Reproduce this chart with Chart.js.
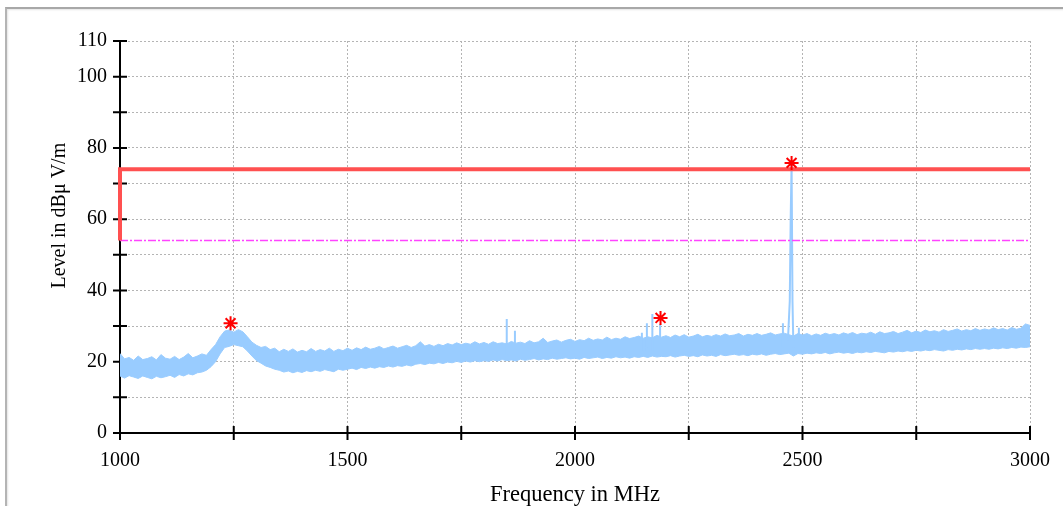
<!DOCTYPE html>
<html>
<head>
<meta charset="utf-8">
<script src="https://cdn.jsdelivr.net/npm/chart.js@4"></script>
<style>
  html, body { margin: 0; padding: 0; background: #fff; overflow: hidden; }
  #frame { position: absolute; left: 5px; top: 7px; width: 1200px; height: 700px;
           border-left: 2px solid #b4b4b4; border-top: 2px solid #a8a8a8;
           box-shadow: inset 1px 1px 2px #e4e4e4; }
  #chart { position: absolute; left: 0; top: 0; }
</style>
</head>
<body>
<div id="frame"></div>
<canvas id="chart" width="1063" height="506"></canvas>
<script>
// measured trace, one value every 10 MHz from 1000 to 3000 MHz
const freqStart = 1000;
const freqStep = 10;
// upper edge of the noisy trace (dBµV/m)
const levelMax = [
  22.3,20.8,21.2,20.4,21.6,20.6,20.9,21.4,20.5,22.0,
  21.0,20.7,21.5,20.6,21.3,22.3,21.1,21.6,22.2,21.8,
  23.4,24.8,27.0,28.6,28.9,28.3,29.0,28.4,27.0,25.5,
  24.6,24.0,24.3,23.4,23.8,22.8,23.5,22.9,23.6,22.7,
  23.2,22.8,23.7,22.9,23.4,23.0,23.8,22.9,23.5,23.1,
  23.8,23.2,23.9,23.4,24.1,23.5,23.8,24.3,23.6,24.0,
  24.4,23.8,24.2,24.6,24.0,24.5,25.6,24.4,24.8,24.3,
  24.9,24.5,25.1,24.7,25.3,24.8,25.2,24.9,25.6,25.0,
  25.4,24.9,25.6,25.1,25.3,25.0,25.7,25.2,25.5,25.1,
  25.9,25.3,25.6,26.6,25.4,25.8,26.1,25.5,26.0,26.3,
  25.7,26.2,25.9,26.6,26.0,26.4,26.1,26.9,26.2,26.6,
  26.3,27.0,26.5,26.8,27.2,26.6,27.0,26.7,27.4,26.9,
  27.3,26.8,27.5,27.0,27.6,26.9,27.2,27.7,27.0,27.4,
  27.1,27.6,27.2,27.8,27.3,27.5,27.9,27.2,27.7,27.4,
  27.9,27.4,27.7,28.1,27.5,27.8,28.0,27.6,27.2,27.9,
  27.5,27.9,27.3,27.8,27.4,28.0,27.6,27.9,27.5,28.1,
  27.7,28.2,27.6,28.0,27.8,28.3,27.7,28.4,27.9,28.1,
  28.5,27.9,28.3,28.8,28.1,28.6,28.2,28.9,28.4,28.7,
  28.3,29.0,28.5,28.8,29.2,28.6,29.0,28.7,29.3,28.8,
  29.2,28.9,29.5,29.0,29.3,28.9,29.6,29.1,29.4,30.6,
  30.2
];
// lower edge of the noisy trace (dBµV/m)
const levelMin = [
  16.0,15.4,16.1,15.7,15.3,16.0,15.6,15.2,15.9,15.5,
  15.8,16.2,15.6,16.4,16.0,16.6,16.3,16.9,17.1,17.6,
  18.6,20.0,22.2,24.0,24.3,24.8,24.5,24.2,23.0,21.6,
  20.3,19.6,18.8,18.4,17.9,17.6,17.1,17.4,16.9,17.3,
  17.0,17.5,17.2,17.6,17.3,17.8,17.5,17.2,17.9,17.6,
  17.9,18.2,17.8,18.4,18.1,18.5,18.2,18.6,18.4,18.8,
  18.5,18.9,18.7,19.1,18.8,19.3,19.5,19.2,19.6,19.4,
  19.8,19.5,19.9,19.7,20.1,19.8,20.2,19.9,20.3,20.0,
  20.3,20.1,20.5,20.2,20.6,20.3,20.5,20.2,20.7,20.4,
  20.6,20.9,20.5,20.8,20.6,21.0,20.7,20.9,21.1,20.8,
  21.0,20.7,21.2,20.9,21.1,21.3,20.9,21.2,21.0,21.4,
  21.1,21.3,21.0,21.4,21.2,21.5,21.2,21.6,21.3,21.5,
  21.4,21.7,21.3,21.6,21.8,21.5,21.7,21.4,21.9,21.6,
  21.8,21.5,22.0,21.7,21.9,22.1,21.8,22.0,21.7,22.1,
  21.9,22.2,21.8,22.1,22.3,22.0,22.2,22.4,21.6,22.3,
  22.1,22.4,22.2,22.5,22.3,22.6,22.2,22.5,22.7,22.4,
  22.6,22.3,22.7,22.5,22.8,22.6,22.9,22.7,22.5,22.9,
  22.7,23.0,22.8,23.1,22.9,23.2,23.0,23.3,23.1,23.4,
  23.2,23.0,23.4,23.2,23.5,23.3,23.6,23.4,23.7,23.5,
  23.7,23.5,23.8,23.6,23.9,23.7,24.0,23.8,24.1,24.0,
  24.2
];
// narrow spurs sticking out of the trace
const spurFreqs = [1850, 1868, 2147, 2158, 2170, 2187, 2457, 2492];
const spurBase  = [22.0, 22.0, 23.0, 23.0, 23.0, 23.0, 24.0, 24.0];
const spurPeak  = [32.0, 28.7, 28.1, 30.8, 33.4, 30.6, 30.8, 29.5];
// the 2.4 GHz carrier
const carrierFreqs  = [2468, 2472, 2474, 2476, 2478, 2480];
const carrierLevels = [26.0, 37.0, 60.0, 75.5, 37.0, 24.0];
// limits
const limitFreqs  = [1000, 1000, 3000];
const limitLevels = [54, 74, 74];
const avgLimitFreqs  = [1000, 3000];
const avgLimitLevels = [54, 54];
// peak markers
const markerFreqs  = [1243, 2188, 2476];
const markerLevels = [30.8, 32.3, 75.8];

const freqs = levelMax.map((_, i) => freqStart + i * freqStep);
const xy = (xs, ys) => xs.map((x, i) => ({ x: x, y: ys[i] }));

const spurPoints = [];
spurFreqs.forEach((f, i) => {
  spurPoints.push({ x: f, y: spurBase[i] }, { x: f, y: spurPeak[i] }, { x: f, y: null });
});

const TRACE = '#99ccff';
const FONT = 'Liberation Serif';

// solid black axes with ticks crossing them, plus the y title
const axesPlugin = {
  id: 'axes',
  beforeDatasetsDraw(chart) {
    const ctx = chart.ctx;
    const xs = chart.scales.x, ys = chart.scales.y;
    const x0 = xs.getPixelForValue(1000), y0 = ys.getPixelForValue(0);
    ctx.save();
    ctx.strokeStyle = '#000';
    ctx.lineWidth = 2;
    ctx.beginPath();
    ctx.moveTo(x0, ys.getPixelForValue(110));
    ctx.lineTo(x0, y0);
    ctx.lineTo(xs.getPixelForValue(3000), y0);
    ys.ticks.forEach(t => {
      const py = ys.getPixelForValue(t.value);
      ctx.moveTo(x0 - 7, py); ctx.lineTo(x0 + 7, py);
    });
    xs.ticks.forEach(t => {
      const px = xs.getPixelForValue(t.value);
      ctx.moveTo(px, y0 - 7); ctx.lineTo(px, y0 + 7);
    });
    ctx.stroke();
    ctx.restore();
  },
  afterDraw(chart) {
    const ctx = chart.ctx, ys = chart.scales.y;
    ctx.save();
    ctx.translate(60, ys.getPixelForValue(61));
    ctx.rotate(-Math.PI / 2);
    ctx.font = '20px "' + FONT + '"';
    ctx.fillStyle = '#000';
    ctx.textAlign = 'center';
    ctx.textBaseline = 'middle';
    ctx.fillText('Level in dBμ V/m', 0, 0);
    ctx.restore();
  }
};

new Chart(document.getElementById('chart'), {
  type: 'line',
  data: {
    datasets: [
      {
        data: xy(markerFreqs, markerLevels),
        showLine: false, pointStyle: 'star', pointRadius: 7,
        pointBorderColor: '#ff0000', pointBorderWidth: 2, order: 0
      },
      {
        data: xy(limitFreqs, limitLevels),
        borderColor: '#ff5050', borderWidth: 4, pointRadius: 0, clip: 4, order: 1
      },
      {
        data: xy(avgLimitFreqs, avgLimitLevels),
        borderColor: '#ff44ff', borderWidth: 1.5, borderDash: [8, 2, 2, 2],
        pointRadius: 0, order: 2
      },
      {
        data: xy(carrierFreqs, carrierLevels),
        borderColor: TRACE, borderWidth: 2, pointRadius: 0, order: 3
      },
      {
        data: spurPoints,
        borderColor: TRACE, borderWidth: 2, pointRadius: 0, spanGaps: false, order: 4
      },
      {
        data: xy(freqs, levelMin),
        borderColor: TRACE, borderWidth: 1, pointRadius: 0, order: 6
      },
      {
        data: xy(freqs, levelMax),
        borderColor: TRACE, borderWidth: 1, pointRadius: 0,
        backgroundColor: TRACE, fill: '-1', order: 5
      }
    ]
  },
  options: {
    responsive: false,
    animation: false,
    events: [],
    layout: { padding: { left: 0, right: 33, top: 41, bottom: 0 } },
    plugins: { legend: { display: false }, tooltip: { enabled: false } },
    scales: {
      x: {
        type: 'linear', min: 1000, max: 3000,
        afterFit(s) { s.height = 73; s.paddingLeft = 0; s.paddingRight = 0; },
        grid: { color: '#b4b4b4', lineWidth: 1, drawTicks: false },
        border: { display: false, dash: [2, 2] },
        ticks: {
          stepSize: 250, padding: 16, color: '#000', maxRotation: 0,
          font: { family: FONT, size: 20 },
          callback: v => (v % 500 === 0 ? v : '')
        },
        title: {
          display: true, text: 'Frequency in MHz', color: '#000',
          font: { family: FONT, size: 22.5, lineHeight: 1 }, padding: { top: 0, bottom: 0 }
        }
      },
      y: {
        min: 0, max: 110,
        afterFit(s) { s.width = 120; s.paddingTop = 0; s.paddingBottom = 0; },
        grid: { color: '#b4b4b4', lineWidth: 1, drawTicks: false },
        border: { display: false, dash: [2, 2] },
        ticks: {
          stepSize: 10, padding: 13, color: '#000',
          font: { family: FONT, size: 20 },
          callback: v => (v % 20 === 0 || v === 110 ? v : '')
        },
        title: { display: false }
      }
    }
  },
  plugins: [axesPlugin]
});
</script>
</body>
</html>
